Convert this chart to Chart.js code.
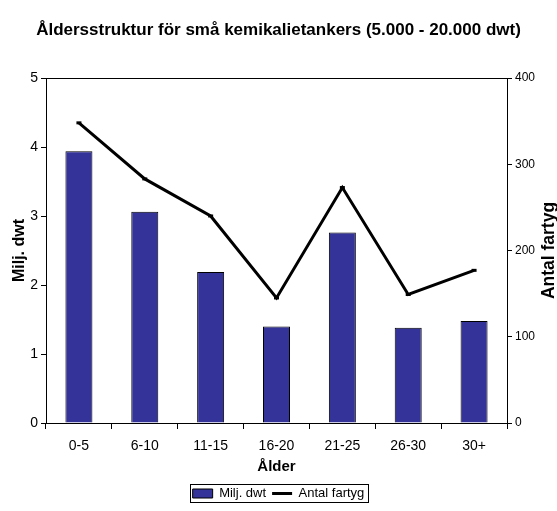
<!DOCTYPE html>
<html>
<head>
<meta charset="utf-8">
<script src="https://cdn.jsdelivr.net/npm/chart.js@4"></script>
<style>
  html, body { margin: 0; padding: 0; background: #fff; }
</style>
</head>
<body>
<canvas id="chart" width="557" height="511"></canvas>
<script>
const categories = ['0-5', '6-10', '11-15', '16-20', '21-25', '26-30', '30+'];
const miljDwt = [3.94, 3.06, 2.19, 1.40, 2.76, 1.38, 1.48];
const antalFartyg = [348, 283, 240, 145, 273, 149, 177];
const leftTicks = [0, 1, 2, 3, 4, 5];
const rightTicks = [0, 100, 200, 300, 400];

const FONT = '"Liberation Sans", Arial, sans-serif';

// titel för högra axeln, läses nedifrån och upp som i originalet
const rightTitle = {
    id: 'rightTitle',
    afterDraw(chart) {
        const ctx = chart.ctx;
        const area = chart.chartArea;
        ctx.save();
        ctx.translate(549, (area.top + area.bottom) / 2);
        ctx.rotate(-Math.PI / 2);
        ctx.font = 'bold 17.5px ' + FONT;
        ctx.fillStyle = '#000';
        ctx.textAlign = 'center';
        ctx.textBaseline = 'middle';
        ctx.fillText('Antal fartyg', 0, 0);
        ctx.restore();
    }
};

// ram runt legenden
const legendBox = {
    id: 'legendBox',
    afterDraw(chart) {
        const boxes = chart.legend.legendHitBoxes;
        if (!boxes || !boxes.length) return;
        let l = Infinity, r = -Infinity, t = Infinity, b = -Infinity;
        boxes.forEach(h => {
            l = Math.min(l, h.left); r = Math.max(r, h.left + h.width);
            t = Math.min(t, h.top); b = Math.max(b, h.top + h.height);
        });
        const ctx = chart.ctx;
        ctx.save();
        ctx.strokeStyle = '#000';
        ctx.lineWidth = 1;
        ctx.strokeRect(Math.round(l - 3) + 0.5, Math.round(t - 3) + 0.5, Math.round(r - l + 6), Math.round(b - t + 5));
        ctx.restore();
    }
};

document.addEventListener('DOMContentLoaded', function() {
    const data = {
        labels: categories,
        datasets: [{
            type: 'line',
            label: 'Antal fartyg',
            data: antalFartyg,
            yAxisID: 'y1',
            borderColor: '#000',
            backgroundColor: '#000',
            borderWidth: 3,
            pointRadius: 2.5,
            pointBackgroundColor: '#000',
            pointStyle: 'line',
            tension: 0,
            fill: false,
            order: 0
        }, {
            type: 'bar',
            label: 'Milj. dwt',
            data: miljDwt,
            yAxisID: 'y',
            backgroundColor: '#333399',
            borderColor: '#000',
            borderWidth: 1,
            pointStyle: 'rect',
            categoryPercentage: 1,
            barPercentage: 0.41,
            order: 1
        }]
    };

    new Chart(document.getElementById('chart'), {
        data: data,
        plugins: [rightTitle, legendBox],
        options: {
            responsive: false,
            animation: false,
            layout: { padding: { left: 0, right: 0, top: 0, bottom: 1 } },
            plugins: {
                title: {
                    display: true,
                    text: 'Åldersstruktur för små kemikalietankers (5.000 - 20.000 dwt)',
                    color: '#000',
                    font: { family: FONT, size: 17, weight: 'bold' },
                    padding: { top: 20, bottom: 37.6 }
                },
                legend: {
                    position: 'bottom',
                    reverse: true,
                    labels: {
                        color: '#000',
                        font: { family: FONT, size: 13 },
                        usePointStyle: true,
                        pointStyleWidth: 20,
                        boxHeight: 9,
                        padding: 6
                    }
                },
                tooltip: { enabled: false }
            },
            scales: {
                x: {
                    grid: { offset: true, drawOnChartArea: false, color: '#000', tickLength: 6 },
                    border: { color: '#000' },
                    ticks: { color: '#000', font: { family: FONT, size: 14 }, padding: 9 },
                    title: { display: true, text: 'Ålder', color: '#000', font: { family: FONT, size: 15, weight: 'bold' }, padding: { top: 4, bottom: 5 } },
                    afterFit: s => { s.height = 58; }
                },
                y: {
                    position: 'left',
                    min: 0,
                    max: 5,
                    afterBuildTicks: s => { s.ticks = leftTicks.map(v => ({ value: v })); },
                    grid: {
                        color: c => (c.tick && c.tick.value === 5 ? '#000' : 'rgba(0,0,0,0)'),
                        tickColor: '#000',
                        tickLength: 5
                    },
                    border: { color: '#000' },
                    ticks: { color: '#000', font: { family: FONT, size: 14 }, padding: 3 },
                    title: { display: true, text: 'Milj. dwt', color: '#000', font: { family: FONT, size: 16, weight: 'bold' }, padding: { top: 10, bottom: 0 } },
                    afterFit: s => { s.width = 46; }
                },
                y1: {
                    position: 'right',
                    min: 0,
                    max: 400,
                    afterBuildTicks: s => { s.ticks = rightTicks.map(v => ({ value: v })); },
                    grid: { drawOnChartArea: false, color: '#000', tickLength: 5 },
                    border: { color: '#000' },
                    ticks: { color: '#000', font: { family: FONT, size: 12 }, padding: 3 },
                    afterFit: s => { s.width = 50; }
                }
            }
        }
    });
});
</script>
</body>
</html>
